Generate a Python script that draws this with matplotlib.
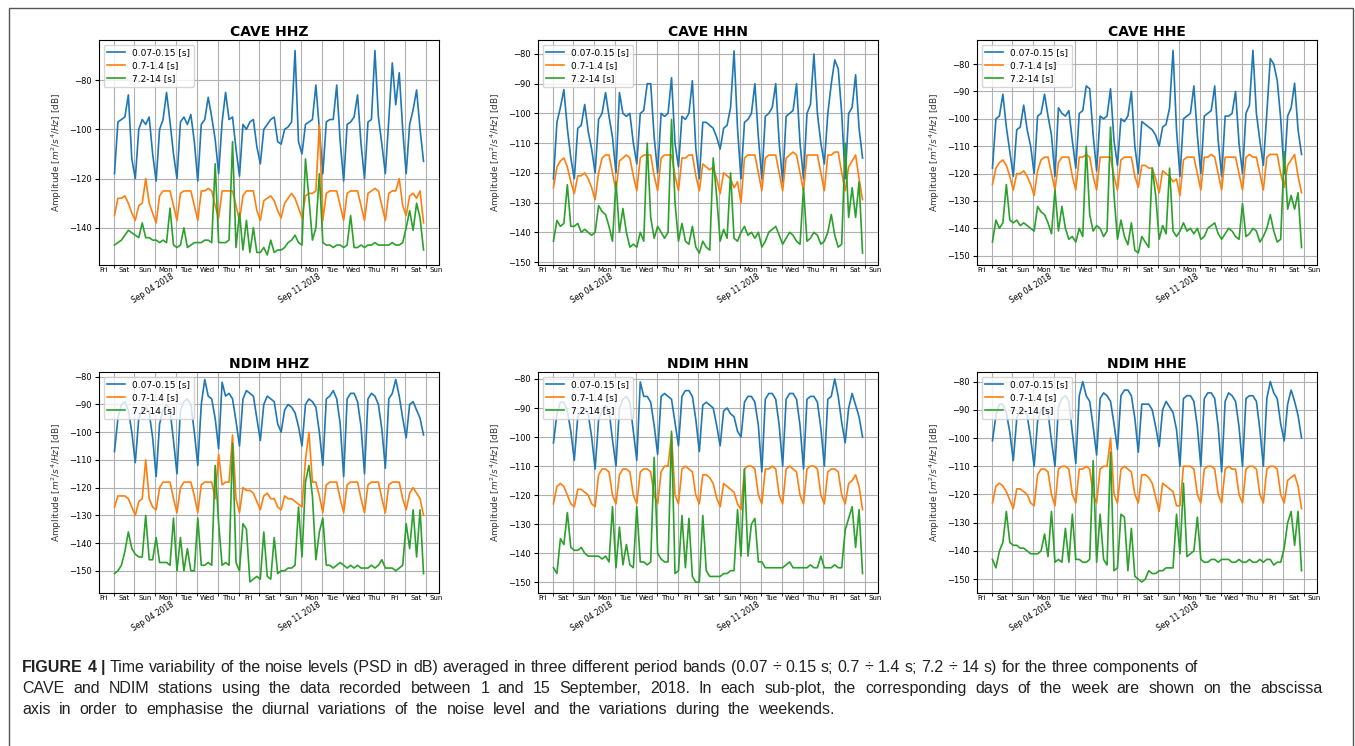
import numpy as np
import pandas as pd
import matplotlib
matplotlib.use('Agg')
import matplotlib.pyplot as plt
import matplotlib.dates as mdates
from matplotlib.ticker import MultipleLocator
from matplotlib.patches import Rectangle

# PSD levels, one value every 4 h from 1 Sep 2018 01:00
# (six values per day: 01, 05, 09, 13, 17, 21 h)
cave_hhz_short = [
    -118, -97, -96, -95, -86, -112, -120, -100, -96, -98, -95, -110, -121, -100, -96, -85, -97, -110,
    -120, -97, -95, -98, -94, -105, -121, -98, -96, -87, -95, -104, -118, -97, -85, -96, -95, -108,
    -119, -98, -100, -97, -96, -107, -114, -100, -98, -96, -95, -105, -106, -100, -99, -97, -68, -105,
    -110, -98, -97, -96, -82, -100, -118, -97, -96, -96, -82, -105, -121, -98, -97, -95, -86, -106,
    -120, -97, -96, -68, -95, -106, -118, -96, -73, -90, -77, -100, -118, -98, -92, -84, -100, -113]
cave_hhz_mid = [
    -135, -128, -128, -127, -130, -134, -137, -131, -130, -120, -130, -134, -138, -127, -125, -125, -125, -131,
    -137, -126, -125, -125, -125, -131, -137, -125, -125, -124, -125, -131, -136, -125, -125, -125, -125, -131,
    -137, -127, -125, -125, -125, -133, -137, -129, -128, -127, -129, -133, -136, -130, -128, -126, -128, -132,
    -136, -127, -126, -126, -125, -98, -137, -126, -125, -125, -125, -131, -137, -126, -125, -125, -125, -131,
    -137, -126, -125, -124, -125, -131, -137, -126, -125, -125, -120, -131, -135, -127, -126, -128, -125, -138]
cave_hhz_long = [
    -147, -146, -145, -143, -141, -142, -143, -144, -138, -144, -144, -145, -145, -146, -145, -146, -132, -147,
    -148, -147, -140, -148, -147, -146, -146, -146, -145, -145, -146, -114, -146, -146, -146, -145, -105, -148,
    -134, -149, -137, -150, -140, -150, -150, -148, -151, -145, -150, -149, -149, -148, -146, -145, -143, -146,
    -147, -112, -128, -145, -140, -118, -146, -147, -147, -148, -147, -147, -148, -147, -135, -148, -148, -147,
    -148, -147, -147, -146, -147, -147, -147, -147, -146, -147, -147, -146, -140, -133, -141, -130, -136, -149]

cave_hhn_short = [
    -122, -103, -98, -92, -105, -115, -122, -105, -104, -97, -106, -112, -120, -102, -100, -93, -101, -108,
    -120, -93, -100, -101, -100, -110, -117, -100, -99, -90, -90, -108, -120, -100, -101, -100, -88, -110,
    -118, -101, -102, -100, -89, -112, -122, -103, -103, -104, -105, -108, -112, -105, -104, -98, -79, -105,
    -122, -103, -102, -100, -90, -108, -122, -101, -100, -98, -90, -110, -123, -101, -100, -99, -90, -110,
    -122, -100, -97, -80, -100, -110, -117, -100, -90, -82, -85, -100, -122, -100, -98, -87, -105, -115]
cave_hhn_mid = [
    -125, -118, -116, -115, -118, -123, -127, -121, -121, -120, -122, -125, -129, -120, -115, -114, -114, -120,
    -126, -116, -115, -114, -115, -121, -126, -115, -114, -114, -114, -121, -126, -115, -114, -114, -114, -121,
    -126, -115, -115, -114, -114, -121, -126, -117, -118, -119, -118, -122, -127, -120, -121, -122, -125, -123,
    -130, -115, -114, -114, -114, -120, -126, -115, -114, -114, -114, -120, -126, -115, -114, -113, -114, -120,
    -126, -114, -114, -114, -114, -120, -126, -114, -114, -113, -113, -120, -126, -118, -116, -114, -122, -129]
cave_hhn_long = [
    -143, -136, -138, -137, -124, -138, -138, -137, -140, -139, -140, -141, -140, -131, -133, -134, -138, -143,
    -123, -140, -132, -140, -145, -144, -145, -140, -143, -110, -135, -142, -138, -140, -142, -140, -102, -130,
    -143, -137, -143, -144, -138, -145, -147, -143, -145, -146, -115, -128, -143, -139, -142, -120, -142, -143,
    -140, -138, -141, -140, -142, -140, -145, -143, -140, -139, -138, -141, -144, -142, -140, -141, -143, -144,
    -125, -143, -142, -140, -141, -144, -143, -140, -134, -141, -145, -144, -110, -135, -125, -135, -123, -147]

cave_hhe_short = [
    -118, -100, -99, -91, -103, -112, -121, -104, -103, -95, -104, -110, -120, -99, -98, -91, -99, -106,
    -121, -96, -98, -99, -97, -108, -118, -98, -97, -88, -89, -106, -119, -99, -100, -99, -89, -108,
    -117, -100, -101, -99, -90, -110, -120, -101, -102, -103, -104, -106, -110, -103, -102, -96, -75, -104,
    -121, -100, -99, -98, -88, -106, -120, -99, -98, -97, -88, -108, -121, -99, -99, -98, -90, -109,
    -120, -98, -95, -75, -98, -108, -117, -98, -78, -80, -86, -100, -120, -99, -96, -87, -104, -113]
cave_hhe_mid = [
    -124, -118, -116, -115, -117, -121, -126, -120, -120, -119, -121, -124, -128, -119, -115, -114, -114, -120,
    -126, -116, -114, -114, -114, -121, -126, -114, -114, -113, -114, -121, -126, -114, -114, -114, -114, -121,
    -126, -115, -114, -114, -114, -121, -125, -117, -117, -118, -118, -122, -127, -119, -120, -121, -123, -122,
    -128, -115, -114, -114, -114, -120, -126, -114, -114, -113, -114, -120, -126, -114, -114, -114, -114, -120,
    -126, -114, -113, -114, -114, -120, -126, -114, -113, -113, -113, -120, -125, -117, -115, -113, -121, -127]
cave_hhe_long = [
    -145, -137, -140, -138, -124, -137, -138, -137, -139, -138, -139, -140, -141, -132, -134, -135, -138, -142,
    -126, -141, -132, -140, -144, -143, -145, -140, -143, -110, -135, -141, -139, -140, -143, -141, -103, -128,
    -144, -137, -143, -146, -138, -148, -149, -143, -145, -147, -118, -128, -144, -139, -142, -118, -141, -143,
    -141, -138, -141, -140, -142, -140, -144, -143, -140, -139, -138, -142, -144, -142, -140, -141, -143, -144,
    -131, -143, -142, -140, -141, -145, -143, -140, -135, -141, -145, -144, -112, -133, -128, -133, -127, -147]

ndim_hhz_short = [
    -107, -95, -90, -89, -92, -100, -111, -95, -92, -91, -93, -102, -116, -97, -92, -90, -92, -103,
    -115, -92, -89, -88, -90, -100, -112, -90, -81, -87, -88, -95, -106, -82, -87, -86, -88, -96,
    -105, -88, -85, -86, -87, -95, -103, -90, -87, -88, -89, -97, -100, -92, -90, -91, -93, -98,
    -105, -90, -88, -89, -91, -100, -112, -88, -87, -85, -88, -97, -116, -88, -86, -86, -89, -98,
    -115, -88, -86, -87, -90, -99, -113, -88, -86, -81, -87, -95, -102, -90, -89, -92, -95, -101]
ndim_hhz_mid = [
    -127, -123, -123, -123, -124, -127, -130, -125, -124, -110, -124, -127, -128, -120, -118, -118, -118, -124,
    -129, -120, -118, -118, -118, -123, -129, -119, -118, -118, -118, -124, -108, -119, -118, -118, -101, -124,
    -129, -120, -121, -121, -122, -125, -128, -123, -122, -124, -124, -127, -128, -123, -124, -124, -125, -126,
    -127, -110, -100, -118, -118, -123, -129, -119, -118, -118, -118, -124, -129, -119, -118, -118, -118, -124,
    -129, -119, -118, -118, -118, -124, -129, -119, -118, -118, -118, -124, -128, -122, -120, -122, -124, -130]
ndim_hhz_long = [
    -151, -150, -148, -143, -136, -142, -144, -145, -145, -130, -146, -146, -138, -147, -147, -147, -148, -131,
    -150, -138, -150, -142, -150, -150, -131, -148, -148, -147, -148, -112, -133, -148, -147, -148, -104, -147,
    -150, -133, -135, -154, -153, -152, -153, -136, -152, -153, -138, -151, -150, -150, -149, -149, -148, -127,
    -145, -118, -112, -123, -146, -136, -131, -148, -148, -149, -148, -147, -148, -149, -148, -149, -148, -149,
    -149, -149, -148, -149, -148, -146, -149, -149, -149, -150, -149, -148, -133, -142, -128, -145, -128, -151]

ndim_hhn_short = [
    -102, -92, -88, -88, -91, -98, -108, -93, -91, -90, -92, -100, -111, -94, -91, -89, -91, -101,
    -110, -90, -87, -86, -88, -98, -108, -81, -86, -86, -88, -96, -106, -86, -85, -86, -87, -95,
    -103, -86, -84, -84, -86, -94, -105, -89, -88, -89, -90, -96, -103, -91, -90, -92, -93, -98,
    -100, -88, -86, -86, -88, -96, -112, -87, -85, -85, -87, -96, -110, -87, -85, -85, -87, -96,
    -111, -87, -86, -86, -88, -97, -110, -87, -86, -80, -86, -95, -102, -90, -85, -89, -93, -100]
ndim_hhn_mid = [
    -123, -117, -116, -117, -120, -123, -124, -118, -118, -119, -120, -123, -124, -113, -111, -111, -112, -120,
    -123, -113, -111, -111, -112, -120, -123, -112, -111, -111, -112, -120, -123, -112, -110, -110, -99, -120,
    -123, -111, -110, -111, -112, -120, -123, -113, -113, -114, -116, -121, -124, -116, -117, -118, -119, -123,
    -125, -111, -110, -110, -111, -120, -123, -111, -111, -110, -111, -120, -123, -111, -110, -111, -112, -120,
    -123, -111, -110, -110, -111, -120, -123, -112, -111, -111, -112, -120, -123, -116, -115, -113, -117, -125]
ndim_hhn_long = [
    -145, -147, -135, -137, -126, -138, -139, -139, -138, -140, -141, -141, -141, -141, -142, -141, -143, -124,
    -145, -131, -144, -137, -144, -145, -124, -143, -143, -144, -143, -107, -140, -142, -143, -143, -98, -147,
    -146, -127, -145, -128, -148, -150, -150, -127, -146, -148, -148, -148, -148, -147, -147, -146, -146, -125,
    -141, -111, -141, -130, -128, -143, -143, -145, -145, -145, -145, -145, -145, -144, -143, -145, -145, -145,
    -145, -145, -144, -145, -145, -141, -145, -145, -145, -144, -145, -145, -132, -128, -124, -138, -125, -147]

ndim_hhe_short = [
    -101, -92, -88, -88, -91, -98, -108, -93, -90, -90, -92, -100, -110, -94, -90, -89, -91, -101,
    -110, -89, -86, -85, -87, -98, -109, -85, -80, -85, -87, -96, -106, -86, -84, -85, -87, -95,
    -104, -85, -83, -83, -85, -93, -105, -88, -88, -88, -90, -96, -103, -90, -87, -89, -91, -97,
    -110, -86, -85, -85, -87, -96, -110, -86, -84, -84, -86, -96, -112, -87, -84, -85, -87, -96,
    -110, -86, -85, -85, -87, -97, -110, -86, -80, -84, -86, -95, -101, -88, -83, -87, -92, -100]
ndim_hhe_mid = [
    -123, -117, -116, -117, -119, -122, -125, -118, -118, -119, -120, -123, -124, -113, -111, -111, -112, -120,
    -124, -111, -110, -110, -111, -120, -123, -111, -111, -110, -111, -120, -123, -111, -110, -110, -100, -120,
    -123, -111, -110, -111, -112, -120, -123, -113, -113, -114, -116, -121, -126, -116, -117, -118, -119, -124,
    -124, -110, -110, -110, -111, -120, -123, -111, -110, -110, -111, -120, -123, -111, -110, -111, -111, -120,
    -123, -111, -110, -110, -111, -120, -123, -111, -110, -110, -111, -120, -123, -115, -114, -113, -117, -125]
ndim_hhe_long = [
    -143, -146, -140, -137, -126, -137, -138, -138, -139, -139, -140, -141, -141, -141, -140, -134, -142, -126,
    -144, -143, -144, -132, -144, -127, -143, -143, -144, -144, -143, -108, -144, -127, -143, -145, -105, -147,
    -146, -127, -128, -147, -132, -149, -150, -151, -150, -147, -148, -148, -147, -147, -146, -146, -146, -127,
    -141, -116, -142, -141, -140, -128, -143, -144, -144, -143, -143, -144, -143, -143, -143, -144, -144, -143,
    -144, -144, -143, -144, -144, -143, -144, -143, -143, -145, -144, -144, -139, -130, -126, -138, -126, -147]

band_labels = ['0.07-0.15 [s]', '0.7-1.4 [s]', '7.2-14 [s]']
band_colors = ['#1f77b4', '#ff7f0e', '#2ca02c']
titles = ['CAVE HHZ', 'CAVE HHN', 'CAVE HHE', 'NDIM HHZ', 'NDIM HHN', 'NDIM HHE']
panel_series = [
    (cave_hhz_short, cave_hhz_mid, cave_hhz_long),
    (cave_hhn_short, cave_hhn_mid, cave_hhn_long),
    (cave_hhe_short, cave_hhe_mid, cave_hhe_long),
    (ndim_hhz_short, ndim_hhz_mid, ndim_hhz_long),
    (ndim_hhn_short, ndim_hhn_mid, ndim_hhn_long),
    (ndim_hhe_short, ndim_hhe_mid, ndim_hhe_long),
]
y_limits = [(-155.1, -63.7), (-151.0, -75.3), (-153.4, -71.2),
            (-158.0, -78.3), (-153.7, -77.6), (-154.9, -76.6)]
y_steps = [20, 10, 10, 10, 10, 10]

caption_lines = [
    [('FIGURE', 'bold'), ('4', 'bold'), ('|', 'bold')] + [(w, 'normal') for w in (
        'Time variability of the noise levels (PSD in dB) averaged in three different period bands '
        '(0.07 \u00f7 0.15 s; 0.7 \u00f7 1.4 s; 7.2 \u00f7 14 s) for the three components of').split(' ')],
    [(w, 'normal') for w in (
        'CAVE and NDIM stations using the data recorded between 1 and 15 September, 2018. '
        'In each sub-plot, the corresponding days of the week are shown on the abscissa').split(' ')],
    [(w, 'normal') for w in (
        'axis in order to emphasise the diurnal variations of the noise level '
        'and the variations during the weekends.').split(' ')],
]

W, H = 1355, 746
fig = plt.figure(figsize=(W / 100, H / 100), dpi=100)

lefts = [99, 538, 977]
row_top = [40, 372]
row_bottom = [265, 593]
axw = 340

sec_axes = []
for i, (title, series) in enumerate(zip(titles, panel_series)):
    r, c = divmod(i, 3)
    ax = fig.add_axes([lefts[c] / W, 1 - row_bottom[r] / H,
                       axw / W, (row_bottom[r] - row_top[r]) / H])
    times = pd.date_range('2018-09-01 01:00', periods=len(series[0]), freq='4h')
    for vals, lab, col in zip(series, band_labels, band_colors):
        ax.plot(times, vals, color=col, lw=1.2, label=lab)

    ax.set_ylim(*y_limits[i])
    ax.yaxis.set_major_locator(MultipleLocator(y_steps[i]))
    ax.tick_params(axis='y', labelsize=6, length=3, pad=2)
    ax.set_ylabel(r'Amplitude [$m^2/s^4/Hz$] [dB]', fontsize=6.5, color='#333333')
    ax.set_title(title, fontsize=10, fontweight='bold', pad=3)

    # weekday names at noon, grid lines at midnight
    ax.xaxis.set_major_locator(mdates.HourLocator(byhour=12))
    ax.xaxis.set_major_formatter(mdates.DateFormatter('%a'))
    ax.xaxis.set_minor_locator(mdates.DayLocator())
    ax.tick_params(axis='x', which='major', length=0, pad=1.5, labelsize=5)
    ax.tick_params(axis='x', which='minor', length=2)
    ax.grid(True, which='minor', axis='x', color='#b0b0b0', lw=0.8)
    ax.grid(True, which='major', axis='y', color='#b0b0b0', lw=0.8)
    ax.set_axisbelow(True)

    # weekly date labels
    sec = ax.secondary_xaxis('bottom')
    sec.xaxis.set_major_locator(mdates.WeekdayLocator(byweekday=mdates.TU))
    sec.xaxis.set_major_formatter(mdates.DateFormatter('%b %d %Y'))
    sec.tick_params(length=0, pad=5, labelsize=5.5, labelrotation=32)
    sec.spines['bottom'].set_visible(False)
    sec_axes.append(sec)

    ax.legend(loc='upper left', fontsize=6.5, handlelength=2.0,
              borderpad=0.4, labelspacing=0.45)

# outer frame of the figure panel
fig.add_artist(Rectangle((9 / W, -0.01), (1353 - 9) / W, 1.01 - 8 / H,
                         transform=fig.transFigure, fill=False,
                         edgecolor='#555555', lw=1.0))

# caption, word by word; lines 2 and 3 are stretched to the widths of the original
cap_font = ['Liberation Sans', 'DejaVu Sans']
cap_size = 11.5
cap_color = '#222222'
cap_left = 22
cap_right = [None, 1323, 835]
cap_base = [672, 693, 714]

renderer = fig.canvas.get_renderer()
space_w = (fig.text(0, 0, 'a a', fontsize=cap_size, family=cap_font).get_window_extent(renderer).width
           - fig.text(0, 0, 'aa', fontsize=cap_size, family=cap_font).get_window_extent(renderer).width)
for t in fig.texts[-2:]:
    t.remove()

for words, right, base in zip(caption_lines, cap_right, cap_base):
    texts = [fig.text(0, 1 - base / H, w, fontsize=cap_size, fontweight=wt, family=cap_font,
                      color=cap_color, va='baseline') for w, wt in words]
    widths = [t.get_window_extent(renderer).width for t in texts]
    if right is None:
        gap = space_w
    else:
        gap = (right - cap_left - sum(widths)) / (len(texts) - 1)
    x = cap_left
    for t, w in zip(texts, widths):
        t.set_x(x / W)
        x += w + gap

fig.canvas.draw()
for sec in sec_axes:
    plt.setp(sec.get_xticklabels(), ha='right')

fig.savefig('out.png', dpi=100)
